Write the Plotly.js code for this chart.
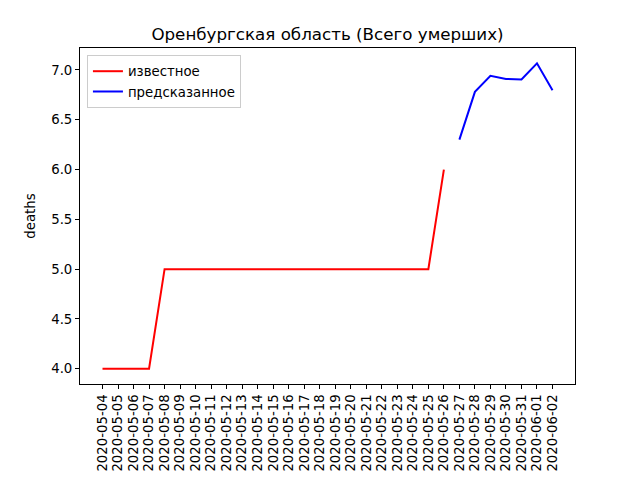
<!DOCTYPE html>
<html>
<head>
<meta charset="utf-8">
<script src="https://cdn.plot.ly/plotly-3.0.1.min.js"></script>
<style>html,body{margin:0;padding:0;background:#fff;}#chart{width:640px;height:480px;}</style>
</head>
<body>
<div id="chart"></div>
<script>
const knownDates = ["2020-05-04","2020-05-05","2020-05-06","2020-05-07","2020-05-08","2020-05-09","2020-05-10","2020-05-11","2020-05-12","2020-05-13","2020-05-14","2020-05-15","2020-05-16","2020-05-17","2020-05-18","2020-05-19","2020-05-20","2020-05-21","2020-05-22","2020-05-23","2020-05-24","2020-05-25","2020-05-26"];
const knownDeaths = [4,4,4,4,5,5,5,5,5,5,5,5,5,5,5,5,5,5,5,5,5,5,6];
const predDates = ["2020-05-27","2020-05-28","2020-05-29","2020-05-30","2020-05-31","2020-06-01","2020-06-02"];
const predDeaths = [6.30,6.78,6.94,6.91,6.905,7.066,6.795];
const allDates = knownDates.concat(predDates);
const yTicks = [4.0,4.5,5.0,5.5,6.0,6.5,7.0];

const font = {family: "DejaVu Sans", size: 13.3, color: "#000"};
const traces = [
  {x: knownDates, y: knownDeaths, type: "scatter", mode: "lines", name: "известное", line: {color: "red", width: 2}},
  {x: predDates, y: predDeaths, type: "scatter", mode: "lines", name: "предсказанное", line: {color: "blue", width: 2}}
];
const layout = {
  width: 640, height: 480,
  margin: {l: 80, r: 65, t: 48, b: 96, pad: 0},
  paper_bgcolor: "#fff", plot_bgcolor: "#fff",
  font: font,
  title: {text: "Оренбургская область (Всего умерших)", font: {family: "DejaVu Sans", size: 16.7, color: "#000"}, x: 0.5, xref: "paper", xanchor: "center", y: 1 - 34/480, yref: "container", yanchor: "middle"},
  showlegend: true,
  legend: {x: 0.014, y: 0.979, xanchor: "left", yanchor: "top", bgcolor: "rgba(255,255,255,0.8)", bordercolor: "#cccccc", borderwidth: 1, font: font, tracegroupgap: 0},
  xaxis: {type: "category", categoryorder: "array", categoryarray: allDates, range: [-1.45, allDates.length - 1 + 1.45],
    tickmode: "array", tickvals: allDates, ticktext: allDates,
    showgrid: false, zeroline: false, showline: true, mirror: true, linecolor: "#000", linewidth: 1,
    ticks: "outside", ticklen: 4, tickwidth: 1, tickcolor: "#000", tickangle: -90, tickfont: font, automargin: false},
  yaxis: {range: [3.847, 7.22], tickvals: yTicks, ticktext: yTicks.map(v => v.toFixed(1)),
    showgrid: false, zeroline: false, showline: true, mirror: true, linecolor: "#000", linewidth: 1,
    ticks: "outside", ticklen: 4, tickwidth: 1, tickcolor: "#000", tickfont: font, automargin: false,
    title: {text: "deaths", font: font, standoff: 12}}
};
Plotly.newPlot("chart", traces, layout, {displayModeBar: false, staticPlot: true});
</script>
</body>
</html>
